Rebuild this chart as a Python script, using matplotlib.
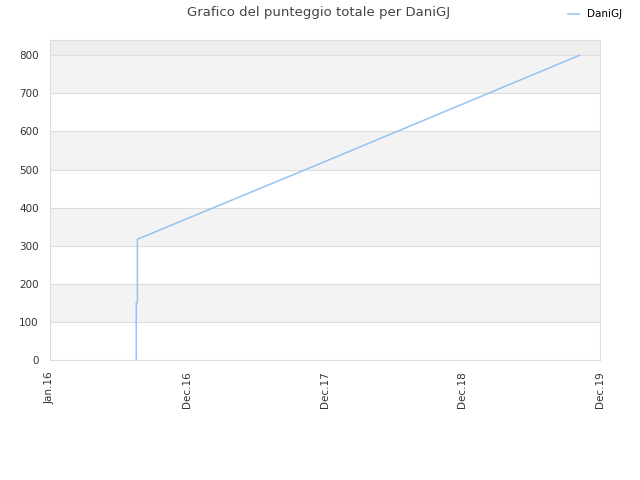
import matplotlib
matplotlib.use("Agg")
import matplotlib.pyplot as plt
import datetime as dt

## data
dates = [dt.date(2016, 8, 17), dt.date(2016, 8, 17), dt.date(2016, 8, 20),
         dt.date(2016, 8, 20), dt.date(2017, 12, 31), dt.date(2019, 11, 7)]
scores = [0, 150, 150, 317, 521, 800]

tick_dates = [dt.date(2016, 1, 1), dt.date(2016, 12, 31), dt.date(2017, 12, 31),
              dt.date(2018, 12, 31), dt.date(2019, 12, 31)]
tick_labels = ["Jan.16", "Dec.16", "Dec.17", "Dec.18", "Dec.19"]
y_ticks = [0, 100, 200, 300, 400, 500, 600, 700, 800]

line_color = "#94c2f1"
grid_color = "#dddddd"
text_color = "#444444"

fig = plt.figure(figsize=(6.4, 4.8), dpi=100)
ax = fig.add_axes([50 / 640, 120 / 480, 550 / 640, 320 / 480])

## alternating bands
for lo in range(100, 800, 200):
    ax.axhspan(lo, lo + 100, color="#f3f3f3", zorder=0, lw=0)
ax.axhspan(800, 900, color="#eeeeee", zorder=0, lw=0)
for y in y_ticks:
    ax.axhline(y, color=grid_color, lw=0.8, zorder=1)

ax.plot(dates, scores, color=line_color, lw=1.1, label="DaniGJ", zorder=3)

ax.set_xlim(tick_dates[0], tick_dates[-1])
ax.set_ylim(0, 840)
ax.set_xticks(tick_dates)
ax.set_xticklabels(tick_labels, rotation=90)
ax.set_yticks(y_ticks)
ax.tick_params(length=0, labelsize=7.5, labelcolor="#333333", pad=8)
for s in ax.spines.values():
    s.set_color(grid_color)

fig.suptitle("Grafico del punteggio totale per DaniGJ", fontsize=9.5,
             color=text_color, x=0.498, y=0.987)
fig.legend(loc="upper right", bbox_to_anchor=(0.987, 1.0), frameon=False,
           fontsize=7.5, handlelength=1.0, labelcolor="#000000")

fig.savefig("out.png")
